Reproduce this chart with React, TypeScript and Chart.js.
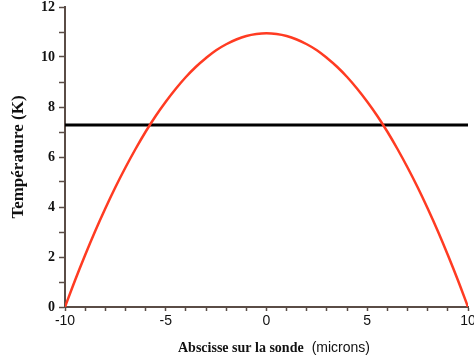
import React, { useEffect, useRef } from "react";
import { Chart, registerables } from "chart.js";

Chart.register(...registerables);

const xValues = [-10, -9.5, -9, -8.5, -8, -7.5, -7, -6.5, -6, -5.5, -5, -4.5, -4, -3.5, -3, -2.5, -2, -1.5, -1, -0.5, 0, 0.5, 1, 1.5, 2, 2.5, 3, 3.5, 4, 4.5, 5, 5.5, 6, 6.5, 7, 7.5, 8, 8.5, 9, 9.5, 10];
const temperature = [0, 1.07, 2.08, 3.04, 3.94, 4.79, 5.58, 6.32, 7.01, 7.64, 8.21, 8.73, 9.2, 9.61, 9.96, 10.27, 10.51, 10.7, 10.84, 10.92, 10.95, 10.92, 10.84, 10.7, 10.51, 10.27, 9.96, 9.61, 9.2, 8.73, 8.21, 7.64, 7.01, 6.32, 5.58, 4.79, 3.94, 3.04, 2.08, 1.07, 0];
const levelX = [-10, 10];
const levelY = [7.28, 7.28];
const xTickLabels = [-10, -5, 0, 5, 10];
const yTickLabels = [0, 2, 4, 6, 8, 10, 12];

const AXIS_COLOR = "#5a4c46";

export default function App() {
  const ref = useRef<HTMLCanvasElement | null>(null);
  useEffect(() => {
    if (!ref.current) return;
    const titlePlugin = {
      id: "xTitle",
      afterDraw(chart: any) {
        const ctx = chart.ctx;
        ctx.save();
        ctx.fillStyle = "#111";
        ctx.textBaseline = "alphabetic";
        ctx.textAlign = "left";
        ctx.font = "bold 14px 'Liberation Serif', 'Times New Roman', serif";
        const a = "Abscisse sur la sonde";
        const x0 = 178;
        const y0 = 352;
        ctx.fillText(a, x0, y0);
        const w = ctx.measureText(a).width;
        ctx.font = "14px 'Liberation Sans', Arial, sans-serif";
        ctx.fillText("(microns)", x0 + w + 8, y0);
        ctx.restore();
      },
    };
    const chart = new Chart(ref.current, {
      type: "scatter",
      data: {
        datasets: [
          {
            label: "Température",
            data: xValues.map((x, i) => ({ x, y: temperature[i] })),
            showLine: true,
            borderColor: "#ff3b22",
            borderWidth: 2.5,
            pointRadius: 0,
            tension: 0.4,
          },
          {
            label: "Niveau",
            data: levelX.map((x, i) => ({ x, y: levelY[i] })),
            showLine: true,
            borderColor: "#000000",
            borderWidth: 3,
            pointRadius: 0,
          },
        ],
      },
      plugins: [titlePlugin],
      options: {
        animation: false,
        responsive: false,
        layout: { padding: { top: 7, right: 12, left: 0, bottom: 0 } },
        plugins: { legend: { display: false }, tooltip: { enabled: false } },
        scales: {
          x: {
            type: "linear",
            min: -10,
            max: 10,
            afterFit: (s: any) => {
              s.height = 55;
              s.paddingLeft = 0;
              s.paddingRight = 0;
            },
            border: { color: AXIS_COLOR, width: 2 },
            grid: { drawOnChartArea: false, drawTicks: true, tickLength: 4, color: AXIS_COLOR, tickWidth: 1.5 },
            ticks: {
              stepSize: 1,
              autoSkip: false,
              maxRotation: 0,
              padding: 2,
              color: "#111",
              font: { family: "'Liberation Sans', Arial, sans-serif", size: 14 },
              callback: (v: any) => (xTickLabels.includes(Number(v)) ? String(v) : ""),
            },
          },
          y: {
            type: "linear",
            min: 0,
            max: 12,
            afterFit: (s: any) => {
              s.width = 65;
              s.paddingTop = 0;
              s.paddingBottom = 0;
            },
            border: { color: AXIS_COLOR, width: 2 },
            grid: { drawOnChartArea: false, drawTicks: true, tickLength: 6, color: AXIS_COLOR, tickWidth: 1.5 },
            ticks: {
              stepSize: 1,
              autoSkip: false,
              padding: 4,
              color: "#111",
              font: { family: "'Liberation Serif', 'Times New Roman', serif", size: 14, weight: "bold" },
              callback: (v: any) => (yTickLabels.includes(Number(v)) ? String(v) : ""),
            },
            title: {
              display: true,
              text: "Température (K)",
              color: "#111",
              padding: { top: 8, bottom: 0 },
              font: { family: "'Liberation Serif', 'Times New Roman', serif", size: 17, weight: "bold" },
            },
          },
        },
      },
    });
    return () => chart.destroy();
  }, []);
  return (
    <div style={{ position: "fixed", left: 0, top: 0, width: 474, height: 362, overflow: "hidden", background: "#fff" }}>
      <canvas ref={ref} width={480} height={362} style={{ display: "block", width: 480, height: 362 }} />
    </div>
  );
}
